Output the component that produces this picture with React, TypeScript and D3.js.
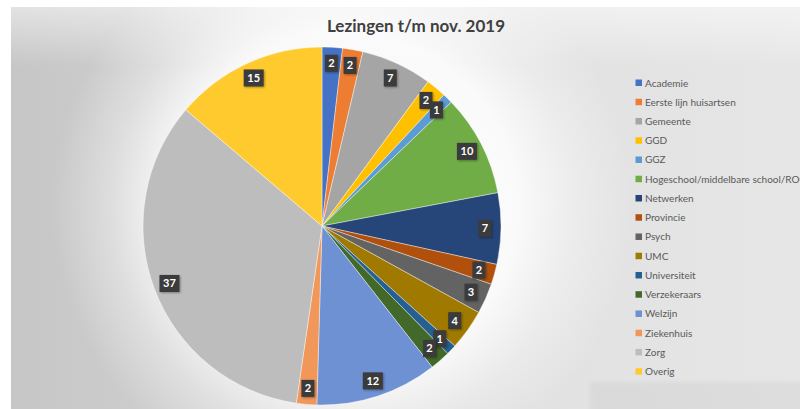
import React from "react";
import * as d3 from "d3";

const categories = [
  "Academie",
  "Eerste lijn huisartsen",
  "Gemeente",
  "GGD",
  "GGZ",
  "Hogeschool/middelbare school/ROC",
  "Netwerken",
  "Provincie",
  "Psych",
  "UMC",
  "Universiteit",
  "Verzekeraars",
  "Welzijn",
  "Ziekenhuis",
  "Zorg",
  "Overig",
];
const values = [2, 2, 7, 2, 1, 10, 7, 2, 3, 4, 1, 2, 12, 2, 37, 15];
const colors = [
  "#4472C4",
  "#ED7D31",
  "#A5A5A5",
  "#FFC000",
  "#5B9BD5",
  "#70AD47",
  "#264478",
  "#B1500F",
  "#636363",
  "#A07A00",
  "#255E91",
  "#43682B",
  "#6D91D2",
  "#F1975A",
  "#BDBDBD",
  "#FFCA2E",
];
const title = "Lezingen t/m nov. 2019";

const W = 800;
const H = 409;
const cx = 322;
const cy = 226;
const R = 179;
const labelR = 163;

export default function App() {
  const data = categories.map((c, i) => ({ c, v: values[i], col: colors[i] }));
  const pie = d3
    .pie<any>()
    .sort(null)
    .value((d: any) => d.v);
  const arcs = pie(data);
  const arc = d3.arc<any>().innerRadius(0).outerRadius(R);
  const labelArc = d3.arc<any>().innerRadius(labelR).outerRadius(labelR);

  const legendY = d3
    .scalePoint<string>()
    .domain(categories)
    .range([83, 371.7]);

  return (
    <svg
      width={W}
      height={H}
      style={{ position: "absolute", left: 0, top: 0, display: "block" }}
    >
      <defs>
        <linearGradient id="bgH" x1="0" x2="1" y1="0" y2="0">
          <stop offset="0" stopColor="#c6c6c6" />
          <stop offset="0.35" stopColor="#d4d4d4" />
          <stop offset="0.7" stopColor="#e2e2e2" />
          <stop offset="1" stopColor="#e6e6e6" />
        </linearGradient>
        <radialGradient id="glow" cx={cx + 20} cy={cy - 20} r={290} gradientUnits="userSpaceOnUse">
          <stop offset="0" stopColor="#ffffff" stopOpacity="1" />
          <stop offset="0.6" stopColor="#ffffff" stopOpacity="0.85" />
          <stop offset="0.8" stopColor="#ffffff" stopOpacity="0.35" />
          <stop offset="1" stopColor="#ffffff" stopOpacity="0" />
        </radialGradient>
        <linearGradient id="topGlow" x1="0" x2="0" y1="0" y2="1">
          <stop offset="0" stopColor="#ffffff" stopOpacity="0.5" />
          <stop offset="1" stopColor="#ffffff" stopOpacity="0" />
        </linearGradient>
        <filter id="sh" x="-50%" y="-50%" width="200%" height="200%">
          <feDropShadow dx="1" dy="1" stdDeviation="1" floodColor="#000" floodOpacity="0.35" />
        </filter>
        <filter id="blur" x="-5%" y="-5%" width="110%" height="110%">
          <feGaussianBlur stdDeviation="0.5" />
        </filter>
        <filter id="soft" x="-10%" y="-50%" width="120%" height="200%">
          <feGaussianBlur stdDeviation="2" />
        </filter>
      </defs>
      <rect x={0} y={0} width={W} height={H} fill="#ffffff" />
      <rect x={11} y={7} width={W - 11} height={H - 7} fill="url(#bgH)" />
      <rect x={11} y={7} width={W - 11} height={H - 7} fill="url(#glow)" />
      <rect x={590} y={382} width={220} height={40} fill="#000" opacity={0.035} filter="url(#soft)" />
      <rect x={11} y={7} width={W - 11} height={60} fill="url(#topGlow)" />

      <text
        x={416}
        y={32}
        textAnchor="middle"
        fontFamily="Lato, 'Open Sans', sans-serif"
        fontWeight="bold"
        fontSize={17}
        fill="#404040"
      >
        {title}
      </text>

      <g transform={`translate(${cx},${cy})`} filter="url(#blur)">
        {arcs.map((a, i) => (
          <path key={i} d={arc(a) || ""} fill={a.data.col} stroke="#ffffff" strokeWidth={0.4} />
        ))}
      </g>

      <g transform={`translate(${cx},${cy})`}>
        {arcs.map((a, i) => {
          const [x, y] = labelArc.centroid(a);
          const txt = String(a.data.v);
          const w = txt.length > 1 ? 20 : 13;
          return (
            <g key={i} transform={`translate(${x},${y})`}>
              <rect x={-w / 2} y={-8.5} width={w} height={17} fill="#3b3b3b" filter="url(#sh)" />
              <text
                x={0}
                y={4}
                textAnchor="middle"
                fontFamily="Lato, 'Open Sans', sans-serif"
                fontWeight="bold"
                fontSize={11}
                fill="#ffffff"
              >
                {txt}
              </text>
            </g>
          );
        })}
      </g>

      <g>
        {categories.map((c, i) => {
          const y = legendY(c) as number;
          return (
            <g key={c}>
              <rect x={635.5} y={y - 3.5} width={6.5} height={6.5} fill={colors[i]} />
              <text
                x={645}
                y={y + 3.5}
                fontFamily="Lato, 'Open Sans', sans-serif"
                fontSize={10}
                fill="#595959"
              >
                {c}
              </text>
            </g>
          );
        })}
      </g>
    </svg>
  );
}
